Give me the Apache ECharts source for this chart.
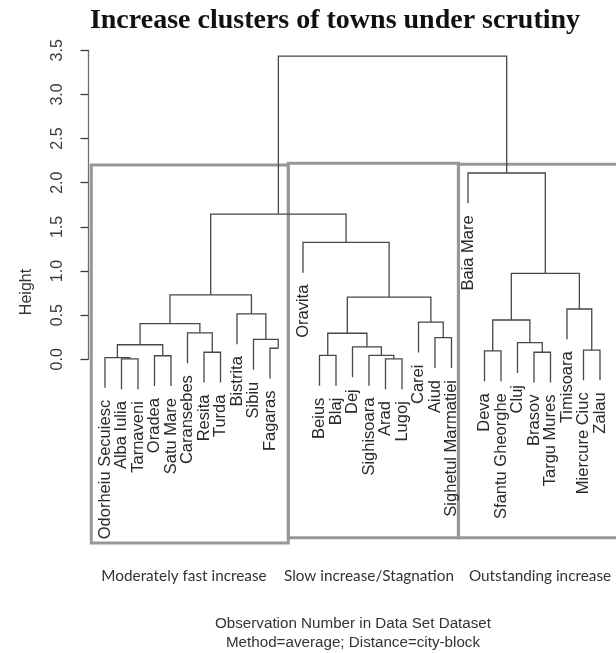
<!DOCTYPE html>
<html><head><meta charset="utf-8">
<script src="https://cdn.jsdelivr.net/npm/echarts@6/dist/echarts.min.js"></script>
<style>html,body{margin:0;padding:0;background:#fff}#c{width:616px;height:653px}</style>
</head><body><div id="c"></div>
<script>
// ---- data ----
const leafLabels = ['Odorheiu Secuiesc','Alba Iulia','Tarnaveni','Oradea','Satu Mare','Caransebes','Resita','Turda','Bistrita','Sibiu','Fagaras','',
  'Oravita','Beius','Blaj','Dej','Sighisoara','Arad','Lugoj','Carei','Aiud','Sighetul Marmatiei',
  'Baia Mare','Deva','Sfantu Gheorghe','Cluj','Brasov','Targu Mures','Timisoara','Miercure Ciuc','Zalau'];
// R-style merge table: negative = leaf number, positive = earlier merge number
const mergeLeft   = [-2, -1, -4, 2, -7, -6, 4, -11, -10, -9, 7, -18, -17, -16, -14, 15, -21, -20, 16, -13, 11, -24, -27, -26, 22, -30, -29, 25, -23, 21];
const mergeRight  = [-3,  1, -5, 3, -8,  5, 6, -12,   8,  9, 10, -19, 12, 13, -15, 14, -22, 17, 18, 19, 20, -25, -28, 23, 24, -31, 26, 27, 28, 29];
const mergeHeight = [0.005, 0.02, 0.04, 0.165, 0.08, 0.30, 0.405, 0.125, 0.225, 0.515, 0.73,
  0.005, 0.045, 0.14, 0.045, 0.295, 0.245, 0.42, 0.705, 1.325, 1.645,
  0.095, 0.08, 0.188, 0.445, 0.105, 0.57, 0.974, 2.11, 3.435];
const yTicks = [0, 0.5, 1.0, 1.5, 2.0, 2.5, 3.0, 3.5];
const clusterNames = ['Moderately fast increase', 'Slow increase/Stagnation', 'Outstanding increase'];
const clusterStart = [0.17, 12.11, 22.42];
const clusterEnd = [12.11, 22.42, 34];
const clusterCut = [2.2, 2.22, 2.21];
const clusterBottom = [-2.08, -2.02, -2.02];

// ---- tree layout (R plot.hclust style) ----
const maxH = Math.max(...mergeHeight);
const hang = 0.1 * maxH;
const nodeX = [];
const leafBottom = [];
mergeLeft.forEach((l, i) => {
  const r = mergeRight[i];
  const cx = c => c < 0 ? -c : nodeX[c - 1];
  nodeX[i] = (cx(l) + cx(r)) / 2;
  [l, r].forEach(c => { if (c < 0) leafBottom[-c - 1] = mergeHeight[i] - hang; });
});
const segData = mergeLeft.map((l, i) => {
  const r = mergeRight[i], h = mergeHeight[i];
  const cx = c => c < 0 ? -c : nodeX[c - 1];
  const cy = c => c < 0 ? h - hang : mergeHeight[c - 1];
  const hidden = (r < 0 && leafLabels[-r - 1] === '') ? 1 : 0;
  return [cx(l), cy(l), cx(r), cy(r), h, hidden];
});
const leafData = leafLabels.map((lab, i) => [i + 1, leafBottom[i], lab]);
const rectData = clusterNames.map((n, i) => [clusterStart[i], clusterEnd[i], clusterCut[i], clusterBottom[i]]);

const chart = echarts.init(document.getElementById('c'), null, {renderer: 'canvas'});
const lineColor = '#474747';
chart.setOption({
  animation: false,
  backgroundColor: '#fff',
  grid: {left: 85, right: 0, top: 50.3, bottom: 293.7},
  xAxis: {type: 'value', min: -0.212, max: 31.97, show: false},
  yAxis: {
    type: 'value', min: 0, max: 3.5, interval: 0.5,
    axisLine: {show: true, lineStyle: {color: '#6e6e6e', width: 1.3}},
    axisTick: {show: true, length: 8, lineStyle: {color: '#3a3a3a', width: 1.3}},
    splitLine: {show: false},
    axisLabel: {rotate: 90, margin: 19, fontSize: 16, fontFamily: 'Liberation Sans', color: '#3a3a3a',
      formatter: v => yTicks.includes(v) ? v.toFixed(1) : ''}
  },
  series: [
    {
      type: 'custom', clip: false, data: rectData, silent: true,
      renderItem: (params, api) => {
        const p0 = api.coord([api.value(0), api.value(2)]);
        const p1 = api.coord([api.value(1), api.value(3)]);
        return {type: 'rect', shape: {x: p0[0], y: p0[1], width: p1[0] - p0[0], height: p1[1] - p0[1]},
          style: {fill: null, stroke: '#979797', lineWidth: 3}};
      }
    },
    {
      type: 'custom', clip: false, data: segData, silent: true,
      renderItem: (params, api) => {
        const xl = api.value(0), yl = api.value(1), xr = api.value(2), yr = api.value(3), h = api.value(4);
        const hidden = api.value(5);
        let pts;
        if (hidden) {
          pts = [api.coord([xl, yl]), api.coord([xl, h]), api.coord([(xl + xr) / 2, h])];
        } else {
          pts = [api.coord([xl, yl]), api.coord([xl, h]), api.coord([xr, h]), api.coord([xr, yr])];
        }
        return {type: 'polyline', shape: {points: pts}, style: {fill: null, stroke: lineColor, lineWidth: 1.3}};
      }
    },
    {
      type: 'custom', clip: false, data: leafData, silent: true,
      renderItem: (params, api) => {
        const p = api.coord([api.value(0), api.value(1)]);
        return {type: 'text', x: p[0], y: p[1] + 12, rotation: Math.PI / 2,
          style: {text: leafLabels[params.dataIndex], align: 'right', verticalAlign: 'middle',
            fontSize: 16.5, fontFamily: 'Liberation Sans', fill: '#2a2a2a'}};
      }
    }
  ],
  graphic: [
    {type: 'text', x: 335, y: 21, style: {text: 'Increase clusters of towns under scrutiny', align: 'center', verticalAlign: 'middle',
      fontSize: 28, fontWeight: 'bold', fontFamily: 'Liberation Serif', fill: '#111'}},
    {type: 'text', x: 27, y: 292, rotation: Math.PI / 2, style: {text: 'Height', align: 'center', verticalAlign: 'middle',
      fontSize: 16, fontFamily: 'Liberation Sans', fill: '#333'}},
    {type: 'text', x: 184, y: 576, style: {text: clusterNames[0], align: 'center', verticalAlign: 'middle', fontSize: 15.3, fontFamily: 'Lato', fill: '#333'}},
    {type: 'text', x: 369, y: 576, style: {text: clusterNames[1], align: 'center', verticalAlign: 'middle', fontSize: 15.3, fontFamily: 'Lato', fill: '#333'}},
    {type: 'text', x: 540, y: 576, style: {text: clusterNames[2], align: 'center', verticalAlign: 'middle', fontSize: 15.3, fontFamily: 'Lato', fill: '#333'}},
    {type: 'text', x: 353, y: 624, style: {text: 'Observation Number in Data Set Dataset', align: 'center', verticalAlign: 'middle', fontSize: 15.2, fontFamily: 'Liberation Sans', fill: '#333'}},
    {type: 'text', x: 353, y: 643, style: {text: 'Method=average; Distance=city-block', align: 'center', verticalAlign: 'middle', fontSize: 15.2, fontFamily: 'Liberation Sans', fill: '#333'}}
  ]
});
</script></body></html>
